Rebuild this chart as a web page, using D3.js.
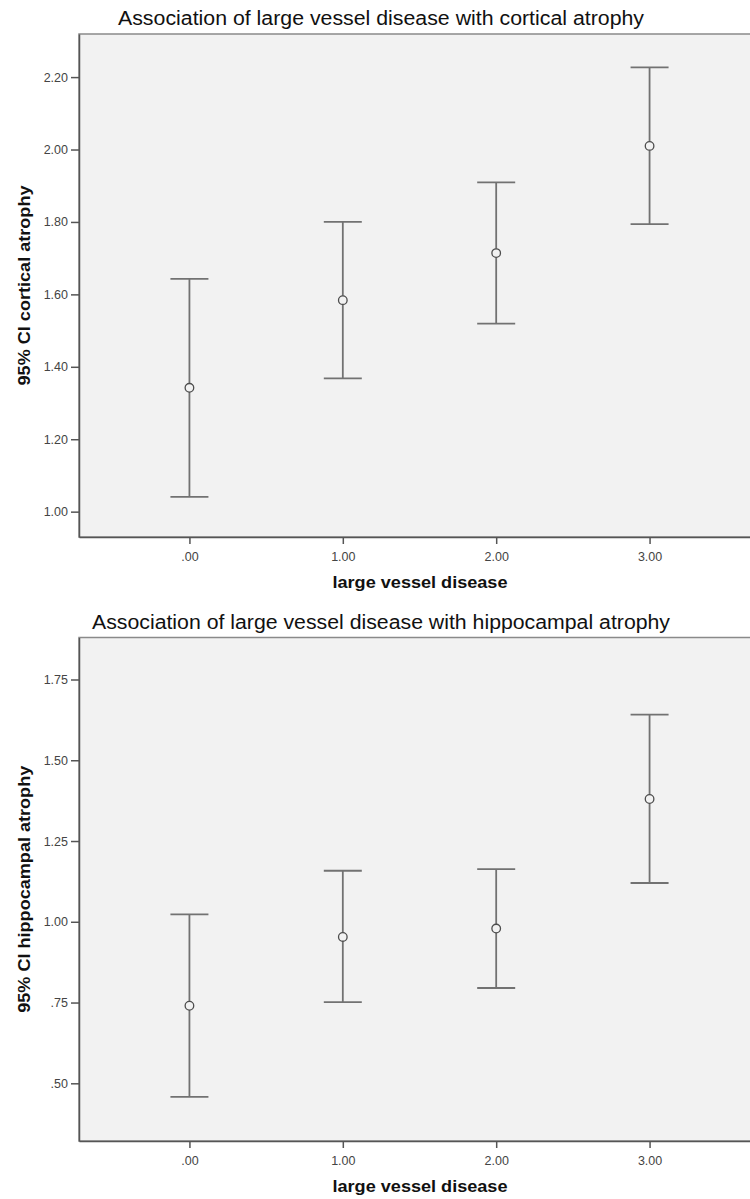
<!DOCTYPE html>
<html>
<head>
<meta charset="utf-8">
<script src="https://cdn.jsdelivr.net/npm/d3@7"></script>
<style>
  html, body { margin: 0; padding: 0; background: #ffffff; }
  svg { display: block; }
  text { font-family: "Liberation Sans", Arial, sans-serif; }
</style>
</head>
<body>
<svg id="chart" width="750" height="1199"></svg>
<script>
// ---------- data ----------
const categories = [0, 1, 2, 3];
const xTickLabels = [".00", "1.00", "2.00", "3.00"];

const cortMean  = [1.342, 1.584, 1.714, 2.010];
const cortLower = [1.041, 1.368, 1.519, 1.794];
const cortUpper = [1.643, 1.800, 1.909, 2.227];
const cortTicks = [1.00, 1.20, 1.40, 1.60, 1.80, 2.00, 2.20];

const hippMean  = [0.740, 0.953, 0.979, 1.380];
const hippLower = [0.458, 0.751, 0.795, 1.120];
const hippUpper = [1.023, 1.158, 1.163, 1.641];
const hippTicks = [0.50, 0.75, 1.00, 1.25, 1.50, 1.75];

const titles = [
  "Association of large vessel disease with cortical atrophy",
  "Association of large vessel disease with hippocampal atrophy"
];
const yTitles = ["95% CI cortical atrophy", "95% CI hippocampal atrophy"];
const xTitle = "large vessel disease";

// ---------- drawing ----------
const svg = d3.select("#chart");
const fmt = v => d3.format(".2f")(v).replace(/^0\./, ".");

// text is rendered a little wider than the installed fonts; stretch to fit
function fitWidth(sel, w) {
  sel.attr("textLength", w).attr("lengthAdjust", "spacingAndGlyphs");
}

function panel(cfg) {
  const { top, bottom, yDomain, yTicks, mean, lower, upper, title, yTitle,
          titleW, yTitleW } = cfg;
  const left = 79, right = 760;
  const x = d3.scaleLinear().domain([-0.72, 3.72]).range([left, right]);
  const y = d3.scaleLinear().domain(yDomain).range([bottom, top]);
  const g = svg.append("g");

  // plot background
  g.append("rect")
    .attr("x", left).attr("y", top)
    .attr("width", right - left).attr("height", bottom - top)
    .attr("fill", "#f2f2f2")
    .attr("stroke", "#8a8a8a").attr("stroke-width", 1.5);

  // y axis
  const yAxis = g.append("g")
    .attr("transform", `translate(${left},0)`)
    .call(d3.axisLeft(y).tickValues(yTicks).tickFormat(fmt)
      .tickSizeInner(8).tickSizeOuter(0).tickPadding(3));
  // x axis
  const xAxis = g.append("g")
    .attr("transform", `translate(0,${bottom})`)
    .call(d3.axisBottom(x).tickValues(categories)
      .tickFormat((d, i) => xTickLabels[i])
      .tickSizeInner(7).tickSizeOuter(0).tickPadding(8));
  [yAxis, xAxis].forEach(a => {
    a.select(".domain").attr("stroke", "#555").attr("stroke-width", 1.5);
    a.selectAll(".tick line").attr("stroke", "#555").attr("stroke-width", 1.5);
    a.selectAll(".tick text")
      .attr("fill", "#444")
      .style("font-size", "12.5px")
      .style("font-family", "'Liberation Sans', Arial, sans-serif");
  });

  // error bars
  const capHalf = 19;
  const bars = g.append("g");
  categories.forEach((c, i) => {
    const cx = x(c);
    bars.append("line")
      .attr("x1", cx).attr("x2", cx)
      .attr("y1", y(lower[i])).attr("y2", y(upper[i]))
      .attr("stroke", "#727272").attr("stroke-width", 1.8);
    [lower[i], upper[i]].forEach(v => {
      bars.append("line")
        .attr("x1", cx - capHalf).attr("x2", cx + capHalf)
        .attr("y1", y(v)).attr("y2", y(v))
        .attr("stroke", "#727272").attr("stroke-width", 1.8);
    });
    bars.append("circle")
      .attr("cx", cx).attr("cy", y(mean[i])).attr("r", 4.3)
      .attr("fill", "#f2f2f2")
      .attr("stroke", "#4d4d4d").attr("stroke-width", 1.3);
  });

  // title
  g.append("text")
    .attr("x", 381).attr("y", top - 9)
    .attr("text-anchor", "middle")
    .attr("fill", "#111")
    .style("font-size", "20px")
    .text(title)
    .call(fitWidth, titleW);

  // y title
  g.append("text")
    .attr("transform", `translate(30,${(top + bottom) / 2}) rotate(-90)`)
    .attr("text-anchor", "middle")
    .attr("fill", "#111")
    .style("font-size", "17px").style("font-weight", "bold")
    .text(yTitle)
    .call(fitWidth, yTitleW);

  // x title
  g.append("text")
    .attr("x", 420).attr("y", bottom + 51)
    .attr("text-anchor", "middle")
    .attr("fill", "#111")
    .style("font-size", "17px").style("font-weight", "bold")
    .text(xTitle)
    .call(fitWidth, 175);
}

panel({
  top: 34, bottom: 537, yDomain: [0.930, 2.319], yTicks: cortTicks,
  mean: cortMean, lower: cortLower, upper: cortUpper,
  title: titles[0], yTitle: yTitles[0], titleW: 526, yTitleW: 200
});
panel({
  top: 637.5, bottom: 1141, yDomain: [0.3214, 1.880], yTicks: hippTicks,
  mean: hippMean, lower: hippLower, upper: hippUpper,
  title: titles[1], yTitle: yTitles[1], titleW: 578, yTitleW: 247
});
</script>
</body>
</html>
